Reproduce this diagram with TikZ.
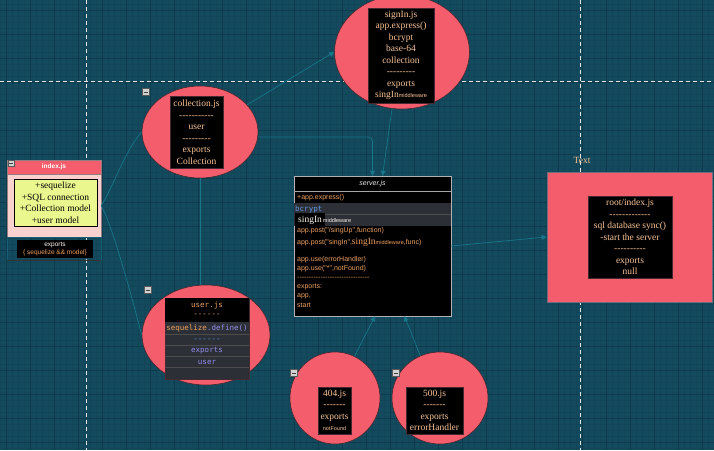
\documentclass[tikz,border=0pt]{standalone}
\usepackage{fontspec}
\setmainfont{Liberation Serif}[Ligatures=TeXOff]
\setsansfont{Liberation Sans}[Ligatures=TeXOff]
\setmonofont{DejaVu Sans Mono}
\usepackage{tikz}
\usetikzlibrary{arrows.meta,positioning}
\usetikzlibrary{shapes.geometric}

\definecolor{bgteal}{RGB}{20,74,93}
\definecolor{gridmajor}{RGB}{14,60,77}
\definecolor{gridminor}{RGB}{18,69,87}
\definecolor{linkteal}{RGB}{22,118,138}
\definecolor{blobred}{RGB}{244,93,107}
\definecolor{blobedge}{RGB}{70,40,48}
\definecolor{peach}{RGB}{250,196,150}
\definecolor{codeorange}{RGB}{236,160,96}
\definecolor{rowgray}{RGB}{44,48,54}
\definecolor{codeblue}{RGB}{100,150,230}
\definecolor{codeviolet}{RGB}{150,140,240}
\definecolor{idxpink}{RGB}{249,210,208}
\definecolor{idxyellow}{RGB}{234,247,142}

\newcommand\mwsmall{\sffamily\fontsize{5.5}{6}\selectfont}
\newcommand\serifbig{\rmfamily\fontsize{9.5}{10}\selectfont}

\begin{document}
\begin{tikzpicture}[x=1pt,y=-1pt,
    link/.style={draw=linkteal, line width=0.7pt},
    tip/.style={-{Triangle[width=5pt,length=5pt]}},
    blob/.style={ellipse, fill=blobred, draw=blobedge, line width=0.6pt, inner sep=0pt},
    codebox/.style={fill=black, draw=blobedge, text=peach, align=center, inner sep=1pt,
        font=\rmfamily\fontsize{9.5}{11.5}\selectfont},
    srvtxt/.style={anchor=west, inner sep=0pt, text=codeorange, font=\sffamily\fontsize{7}{8}\selectfont},
    usrtxt/.style={inner sep=0pt, font=\ttfamily\fontsize{7.5}{8}\selectfont},
    minusbox/.style={draw=gray!70!black, fill=gray!35, minimum size=7pt, inner sep=0pt,
        path picture={\draw[black!75, line width=0.8pt]
            ([xshift=-2pt]path picture bounding box.center) -- ([xshift=2pt]path picture bounding box.center);}}
  ]

        % Background and grid
        \useasboundingbox (0,0) rectangle (714,450);
        \fill[bgteal] (0,0) rectangle (714,450);
        \foreach \gx in {0,6,...,714} \draw[gridminor, line width=0.3pt] (\gx,0) -- (\gx,450);
        \foreach \gy in {4,10,...,450} \draw[gridminor, line width=0.3pt] (0,\gy) -- (714,\gy);
        \foreach \gx in {6,30,...,702} \draw[gridmajor, line width=0.6pt] (\gx,0) -- (\gx,450);
        \foreach \gy in {10,34,...,442} \draw[gridmajor, line width=0.6pt] (0,\gy) -- (714,\gy);
        \draw[white!80!gray, dash pattern=on 4pt off 3pt, line width=0.7pt] (86,0) -- (86,450);
        \draw[white!80!gray, dash pattern=on 4pt off 3pt, line width=0.7pt] (580,0) -- (580,450);
        \draw[white!80!gray, dash pattern=on 4pt off 3pt, line width=0.7pt] (0,81) -- (714,81);

        % index.js
        \node[fill=idxpink, draw=blobedge!60, minimum width=94pt, minimum height=63pt, inner sep=0pt] (idx) at (54,205.5) {};
        \node[fill=blobred, draw=blobedge!60, minimum width=94pt, minimum height=14pt, inner sep=0pt,
              text=white, font=\sffamily\bfseries\fontsize{6.5}{7}\selectfont] (idxHead) at (54,167) {index.js};
        \node[fill=idxyellow, draw=black, minimum width=83pt, minimum height=47pt, inner sep=0pt, align=center,
              font=\rmfamily\fontsize{9.5}{11.5}\selectfont] (idxList) at (55.5,202.5)
              {+sequelize\\+SQL connection\\+Collection model\\+user model};
        \node[draw=linkteal!50!bgteal, minimum width=94pt, minimum height=23pt, inner sep=0pt] (idxFoot) at (54,248.5) {};
        \node[fill=black, minimum width=76pt, minimum height=18pt, inner sep=0pt, align=center,
              font=\sffamily\fontsize{6.5}{7.5}\selectfont] (idxExp) at (55,249)
              {\textcolor{white!85!peach}{exports}\\\textcolor{codeorange}{\{ sequelize \&\& model\}}};
        \draw[black!80, line width=0.8pt] (idxFoot.south west) -- (idxFoot.south east);
        \node[minusbox, minimum size=6pt] (idxMinus) at (11,163) {};

        % collection.js
        \node[blob, minimum width=116pt, minimum height=92pt] (coll) at (200,132) {};
        \node[codebox, minimum width=53pt, minimum height=72pt] (collTxt) at (196.5,132)
              {collection.js\\-----------\\user\\---------\\exports\\Collection};
        \node[minusbox] (collMinus) at (146,92) {};

        % signIn.js
        \node[blob, minimum width=135pt, minimum height=114pt] (sign) at (402,52) {};
        \node[codebox, minimum width=66pt, minimum height=95pt] (signTxt) at (401,55.5)
              {signIn.js\\app.express()\\bcrypt\\base-64\\collection\\---------\\exports\\singIn{\mwsmall middleware}};

        % user.js
        \node[blob, minimum width=128pt, minimum height=100pt] (user) at (206,335) {};
        \node[fill=rowgray, draw=blobedge, minimum width=84pt, minimum height=81pt, inner sep=0pt] (userTxt) at (207,338.5) {};
        \fill[black] (userTxt.north west) rectangle (249,322);
        \foreach \ry in {334,345,356,367} \draw[black!70, line width=0.5pt] (165,\ry) -- (249,\ry);
        \node[usrtxt, text=codeorange] (userName) at (207,305) {user.js};
        \node[usrtxt, text=codeorange] (userRule) at (207,315) {------};
        \node[usrtxt] (userDef) at (207,328) {\textcolor{codeorange}{sequelize}\textcolor{codeviolet}{.define()}};
        \node[usrtxt, text=codeblue] (userRule2) at (207,340) {------};
        \node[usrtxt, text=codeviolet] (userExp) at (207,351) {exports};
        \node[usrtxt, text=codeviolet] (userOut) at (207,362) {user};
        \node[minusbox] (userMinus) at (148,290) {};

        % server.js
        \node[fill=black, draw=gray!60, minimum width=157pt, minimum height=140pt, inner sep=0pt] (srv) at (372.5,246) {};
        \draw[gray!70] (294,191) -- (451,191);
        \fill[rowgray] (294,203) rectangle (451,226);
        \draw[black!70, line width=0.4pt] (294,214) -- (451,214);
        \node[inner sep=0pt, text=white!85!gray, font=\sffamily\itshape\fontsize{7}{8}\selectfont] (srvTitle) at (372.5,184) {server.js};
        \node[srvtxt] (srvExpress) at (297,198) {+app.express()};
        \node[srvtxt, text=codeblue, font=\ttfamily\fontsize{7.5}{8}\selectfont] (srvBcrypt) at (295,209) {bcrypt};
        \node[srvtxt, text=white!85!peach] (srvSign) at (295,220) {\colorbox{black}{\serifbig singIn}\hspace{-2pt}\mwsmall middleware};
        \node[srvtxt] (srvPost1) at (297,231) {app.post("/singUp",function)};
        \node[srvtxt] (srvPost2) at (297,242) {app.post("singIn",{\serifbig singIn}{\mwsmall middleware},func)};
        \node[srvtxt] (srvUse1) at (297,260) {app.use(errorHandler)};
        \node[srvtxt] (srvUse2) at (297,269) {app.use("*",notFound)};
        \node[srvtxt] (srvRule) at (297,278) {-------------------------------};
        \node[srvtxt] (srvExp) at (297,287) {exports:};
        \node[srvtxt] (srvApp) at (297,296) {app,};
        \node[srvtxt] (srvStart) at (297,305) {start};

        % 404.js and 500.js
        \node[blob, minimum width=90pt, minimum height=92pt] (e404) at (335,398) {};
        \node[codebox, minimum width=33pt, minimum height=47pt] (e404Txt) at (334.5,410.5)
              {404.js\\-------\\exports\\{\mwsmall notFound}};
        \node[minusbox] (e404Minus) at (294,373) {};
        \node[blob, minimum width=96pt, minimum height=92pt] (e500) at (440,398) {};
        \node[codebox, minimum width=57pt, minimum height=47pt] (e500Txt) at (434.5,410.5)
              {500.js\\-------\\exports\\errorHandler};
        \node[minusbox] (e500Minus) at (396,373) {};

        % root/index.js
        \node[fill=blobred, draw=linkteal!60!blobred, line width=0.8pt, minimum width=165pt, minimum height=130pt, inner sep=0pt] (root) at (629.5,237) {};
        \node[codebox, minimum width=84pt, minimum height=82pt] (rootTxt) at (630,237)
              {root/index.js\\-------------\\sql database sync()\\-start the server\\----------\\exports\\null};
        \node[text=peach, font=\rmfamily\fontsize{9.5}{10}\selectfont] (rootLabel) at (582,160) {Text};

        % connectors
        \draw[link] (idx.east) .. controls (112,190) and (125,150) .. (coll.west);
        \draw[link] (idx.east) .. controls (112,225) and (130,290) .. (user.west);
        \draw[link] (coll.south) -- (coll.south |- user.north);
        \draw[link, tip] (coll.30) -- (sign.west);
        \draw[link, tip, rounded corners=4pt] (coll.-5) -| (srv.north);
        \draw[link, tip] (sign.-100) -- ([xshift=10pt]srv.north);
        \draw[link, tip] (srv.east) -- (root.west);
        \draw[link, tip] (e404.65) -- ([xshift=2.5pt]srv.south);
        \draw[link, tip] (e500.115) -- ([xshift=32pt]srv.south);
    \end{tikzpicture}
\end{document}
